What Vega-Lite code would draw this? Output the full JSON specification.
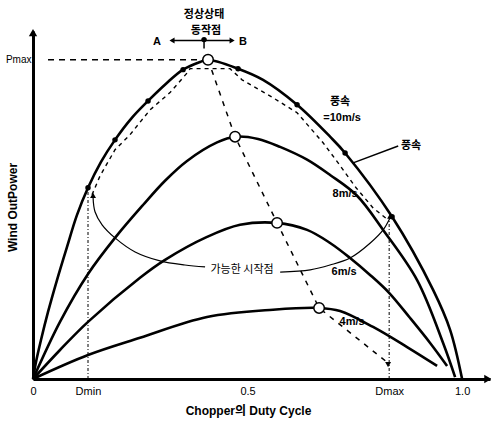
{
  "$schema": "https://vega.github.io/schema/vega-lite/v6.json",
  "width": 457,
  "height": 348,
  "autosize": "none",
  "padding": {"left": 33, "top": 31, "right": 1, "bottom": 43},
  "background": "white",
  "config": {"view": {"stroke": null}, "font": "Liberation Sans, Noto Sans CJK KR"},
  "datasets": {
    "curves": [
      {"s": "10", "d": 0, "p": 0}, {"s": "10", "d": 0.007, "p": 0.053}, {"s": "10", "d": 0.0186, "p": 0.122},
      {"s": "10", "d": 0.035, "p": 0.21}, {"s": "10", "d": 0.0559, "p": 0.31}, {"s": "10", "d": 0.0793, "p": 0.414},
      {"s": "10", "d": 0.1026, "p": 0.514}, {"s": "10", "d": 0.1282, "p": 0.599},
      {"s": "10", "d": 0.1585, "p": 0.680}, {"s": "10", "d": 0.1911, "p": 0.749}, {"s": "10", "d": 0.2284, "p": 0.815},
      {"s": "10", "d": 0.2681, "p": 0.871}, {"s": "10", "d": 0.31, "p": 0.925}, {"s": "10", "d": 0.3497, "p": 0.969},
      {"s": "10", "d": 0.3893, "p": 0.993}, {"s": "10", "d": 0.4079, "p": 1.0}, {"s": "10", "d": 0.4779, "p": 0.972},
      {"s": "10", "d": 0.5361, "p": 0.937}, {"s": "10", "d": 0.6154, "p": 0.859}, {"s": "10", "d": 0.6923, "p": 0.759},
      {"s": "10", "d": 0.7273, "p": 0.708}, {"s": "10", "d": 0.8368, "p": 0.508}, {"s": "10", "d": 0.9324, "p": 0.279},
      {"s": "10", "d": 0.972, "p": 0.154}, {"s": "10", "d": 1.0, "p": 0},
      {"s": "8", "d": 0, "p": 0}, {"s": "8", "d": 0.0629, "p": 0.179}, {"s": "8", "d": 0.1282, "p": 0.329},
      {"s": "8", "d": 0.1911, "p": 0.442}, {"s": "8", "d": 0.2564, "p": 0.545}, {"s": "8", "d": 0.3077, "p": 0.621},
      {"s": "8", "d": 0.359, "p": 0.683}, {"s": "8", "d": 0.4289, "p": 0.741}, {"s": "8", "d": 0.4709, "p": 0.759},
      {"s": "8", "d": 0.5245, "p": 0.752}, {"s": "8", "d": 0.5758, "p": 0.727}, {"s": "8", "d": 0.6387, "p": 0.687},
      {"s": "8", "d": 0.6923, "p": 0.639}, {"s": "8", "d": 0.7552, "p": 0.574}, {"s": "8", "d": 0.8159, "p": 0.467},
      {"s": "8", "d": 0.8951, "p": 0.31}, {"s": "8", "d": 0.9557, "p": 0.113}, {"s": "8", "d": 0.9837, "p": 0.006},
      {"s": "6", "d": 0, "p": 0}, {"s": "6", "d": 0.0629, "p": 0.0909}, {"s": "6", "d": 0.1282, "p": 0.179},
      {"s": "6", "d": 0.2494, "p": 0.317}, {"s": "6", "d": 0.3077, "p": 0.373}, {"s": "6", "d": 0.4056, "p": 0.445},
      {"s": "6", "d": 0.4825, "p": 0.483}, {"s": "6", "d": 0.5688, "p": 0.489}, {"s": "6", "d": 0.6387, "p": 0.467},
      {"s": "6", "d": 0.6923, "p": 0.426}, {"s": "6", "d": 0.7389, "p": 0.379}, {"s": "6", "d": 0.7855, "p": 0.326},
      {"s": "6", "d": 0.8298, "p": 0.27}, {"s": "6", "d": 0.8788, "p": 0.191}, {"s": "6", "d": 0.9254, "p": 0.113},
      {"s": "6", "d": 0.965, "p": 0.041},
      {"s": "4", "d": 0, "p": 0}, {"s": "4", "d": 0.1282, "p": 0.075}, {"s": "4", "d": 0.2494, "p": 0.129},
      {"s": "4", "d": 0.4056, "p": 0.194}, {"s": "4", "d": 0.5594, "p": 0.217}, {"s": "4", "d": 0.6667, "p": 0.2226},
      {"s": "4", "d": 0.7156, "p": 0.213}, {"s": "4", "d": 0.7925, "p": 0.163}, {"s": "4", "d": 0.8718, "p": 0.1},
      {"s": "4", "d": 0.9417, "p": 0.041}
    ],
    "track": [
      {"d": 0.1375, "p": 0.577}, {"d": 0.1562, "p": 0.636}, {"d": 0.1911, "p": 0.718}, {"d": 0.2261, "p": 0.765},
      {"d": 0.2727, "p": 0.843}, {"d": 0.3193, "p": 0.897}, {"d": 0.3613, "p": 0.962}, {"d": 0.366, "p": 0.972},
      {"d": 0.4592, "p": 0.972}, {"d": 0.4872, "p": 0.937}, {"d": 0.5594, "p": 0.881}, {"d": 0.6154, "p": 0.834},
      {"d": 0.676, "p": 0.74}, {"d": 0.711, "p": 0.677}, {"d": 0.7529, "p": 0.599}, {"d": 0.7925, "p": 0.536},
      {"d": 0.8275, "p": 0.498}
    ],
    "mpp": [
      {"d": 0.4079, "p": 1.0}, {"d": 0.4709, "p": 0.759}, {"d": 0.5688, "p": 0.489}, {"d": 0.6667, "p": 0.2226},
      {"d": 0.8275, "p": 0.05}
    ],
    "start": [
      {"seg": "L", "d": 0.1399, "p": 0.571}, {"seg": "L", "d": 0.1445, "p": 0.524}, {"seg": "L", "d": 0.161, "p": 0.483},
      {"seg": "L", "d": 0.1911, "p": 0.442}, {"seg": "L", "d": 0.238, "p": 0.398}, {"seg": "L", "d": 0.296, "p": 0.37},
      {"seg": "L", "d": 0.354, "p": 0.357}, {"seg": "L", "d": 0.401, "p": 0.351},
      {"seg": "R", "d": 0.576, "p": 0.335}, {"seg": "R", "d": 0.646, "p": 0.342}, {"seg": "R", "d": 0.692, "p": 0.357},
      {"seg": "R", "d": 0.739, "p": 0.379}, {"seg": "R", "d": 0.786, "p": 0.426}, {"seg": "R", "d": 0.816, "p": 0.467},
      {"seg": "R", "d": 0.8322, "p": 0.505}
    ],
    "vlines": [
      {"d": 0.1282, "p": 0, "p2": 0.599},
      {"d": 0.83, "p": 0, "p2": 0.508}
    ],
    "hlines": [
      {"d": 0.035, "d2": 0.4, "p": 1.0}
    ],
    "solidRules": [
      {"d": 0.746, "d2": 0.851, "p": 0.677, "p2": 0.73},
      {"d": 0.324, "d2": 0.464, "p": 1.06, "p2": 1.06},
      {"d": 0.3986, "d2": 0.3986, "p": 1.06, "p2": 1.035}
    ],
    "dots": [
      {"d": 0.1282, "p": 0.599}, {"d": 0.1911, "p": 0.749}, {"d": 0.2681, "p": 0.871}, {"d": 0.3497, "p": 0.969},
      {"d": 0.4779, "p": 0.972}, {"d": 0.6154, "p": 0.859}, {"d": 0.7273, "p": 0.708}, {"d": 0.8368, "p": 0.508},
      {"d": 0.3986, "p": 1.063}
    ],
    "circles": [
      {"d": 0.4079, "p": 1.0}, {"d": 0.4709, "p": 0.759}, {"d": 0.5688, "p": 0.489}, {"d": 0.6667, "p": 0.2226}
    ],
    "arrows": [
      {"d": 0.324, "p": 1.06, "dir": "left"}, {"d": 0.464, "p": 1.06, "dir": "right"},
      {"d": 0.8275, "p": 0.045, "dir": "down"}, {"d": 0.1399, "p": 0.575, "dir": "up"},
      {"d": 0.8322, "p": 0.51, "dir": "up"}
    ],
    "axisArrows": [
      {"d": 0, "p": 1.085, "dir": "up"}, {"d": 1.06, "p": 0, "dir": "right"}
    ],
    "labels": [
      {"d": 0.3986, "p": 1.141, "t": "정상상태"}, {"d": 0.4033, "p": 1.091, "t": "동작점"},
      {"d": 0.289, "p": 1.056, "t": "A"}, {"d": 0.4895, "p": 1.056, "t": "B"},
      {"d": 0.7156, "p": 0.868, "t": "풍속"}, {"d": 0.7203, "p": 0.818, "t": "=10m/s"},
      {"d": 0.881, "p": 0.73, "t": "풍속"}, {"d": 0.7273, "p": 0.58, "t": "8m/s"},
      {"d": 0.725, "p": 0.335, "t": "6m/s"}, {"d": 0.7436, "p": 0.179, "t": "4m/s"}
    ],
    "thinLabels": [
      {"d": 0.4872, "p": 0.342, "t": "가능한 시작점"}
    ]
  },
  "encoding": {
    "x": {
      "field": "d", "type": "quantitative",
      "scale": {"domain": [0, 1.065], "nice": false, "zero": false},
      "axis": {
        "values": [0, 0.128, 0.5, 0.83, 1],
        "labelExpr": "datum.value == 0 ? '0' : datum.value == 0.5 ? '0.5' : datum.value == 1 ? '1.0' : datum.value < 0.3 ? 'Dmin' : 'Dmax'",
        "ticks": false, "grid": false, "domainColor": "#000", "domainWidth": 3,
        "labelFont": "Liberation Sans", "labelFontSize": 11, "labelColor": "#000", "labelPadding": 6,
        "labelFlush": false, "labelOverlap": false,
        "title": "Chopper의 Duty Cycle", "titleFont": "Liberation Sans, Noto Sans CJK KR", "titleFontSize": 12,
        "titleFontWeight": "bold", "titleColor": "#000", "titleX": 215, "titleY": 31, "titleBaseline": "middle", "titleAlign": "center"
      }
    },
    "y": {
      "field": "p", "type": "quantitative",
      "scale": {"domain": [0, 1.09], "nice": false, "zero": false},
      "axis": {
        "values": [1], "labelExpr": "'Pmax'",
        "ticks": false, "grid": false, "domainColor": "#000", "domainWidth": 3,
        "labelFont": "Liberation Sans", "labelFontSize": 10, "labelColor": "#000", "labelPadding": 2,
        "title": "Wind OutPower", "titleFont": "Liberation Sans", "titleFontSize": 12, "titleFontWeight": "bold",
        "titleColor": "#000", "titleX": -21, "titleY": 176, "titleAngle": 270, "titleAlign": "center", "titleBaseline": "middle"
      }
    }
  },
  "layer": [
    {
      "data": {"name": "vlines"},
      "mark": {"type": "rule", "color": "#000", "strokeWidth": 1, "strokeDash": [3, 2, 1, 2]},
      "encoding": {"y2": {"field": "p2"}}
    },
    {
      "data": {"name": "hlines"},
      "mark": {"type": "rule", "color": "#000", "strokeWidth": 1.5, "strokeDash": [6, 5]},
      "encoding": {"x2": {"field": "d2"}}
    },
    {
      "data": {"name": "mpp"},
      "mark": {"type": "line", "color": "#000", "strokeWidth": 1.5, "strokeDash": [5, 6]},
      "encoding": {}
    },
    {
      "data": {"name": "track"},
      "mark": {"type": "line", "color": "#000", "strokeWidth": 1.4, "strokeDash": [4, 4]},
      "encoding": {}
    },
    {
      "data": {"name": "start"},
      "mark": {"type": "line", "color": "#000", "strokeWidth": 1.2, "interpolate": "catmull-rom"},
      "encoding": {"detail": {"field": "seg"}}
    },
    {
      "data": {"name": "curves"},
      "mark": {"type": "line", "color": "#000", "strokeWidth": 2.6, "interpolate": "catmull-rom"},
      "encoding": {"detail": {"field": "s"}}
    },
    {
      "data": {"name": "solidRules"},
      "mark": {"type": "rule", "color": "#000", "strokeWidth": 1.5},
      "encoding": {"x2": {"field": "d2"}, "y2": {"field": "p2"}}
    },
    {
      "data": {"name": "dots"},
      "mark": {"type": "point", "shape": "circle", "filled": true, "color": "#000", "size": 30, "opacity": 1},
      "encoding": {}
    },
    {
      "data": {"name": "circles"},
      "mark": {"type": "point", "shape": "circle", "filled": true, "fill": "#fff", "stroke": "#000", "strokeWidth": 1.5, "size": 110, "opacity": 1},
      "encoding": {}
    },
    {
      "data": {"name": "arrows"},
      "mark": {"type": "point", "filled": true, "color": "#000", "size": 35, "opacity": 1},
      "encoding": {"shape": {"field": "dir", "type": "nominal", "scale": {"domain": ["up", "down", "left", "right"], "range": ["triangle-up", "triangle-down", "triangle-left", "triangle-right"]}, "legend": null}}
    },
    {
      "data": {"name": "axisArrows"},
      "mark": {"type": "point", "filled": true, "color": "#000", "size": 70, "opacity": 1},
      "encoding": {"shape": {"field": "dir", "type": "nominal", "scale": {"domain": ["up", "down", "left", "right"], "range": ["triangle-up", "triangle-down", "triangle-left", "triangle-right"]}, "legend": null}}
    },
    {
      "data": {"name": "labels"},
      "mark": {"type": "text", "font": "Liberation Sans, Noto Sans CJK KR", "fontSize": 11, "fontWeight": "bold", "color": "#000", "align": "center", "baseline": "middle"},
      "encoding": {"text": {"field": "t"}}
    },
    {
      "data": {"name": "thinLabels"},
      "mark": {"type": "text", "font": "Noto Sans CJK KR", "fontSize": 11, "color": "#000", "align": "center", "baseline": "middle", "fill": "#000"},
      "encoding": {"text": {"field": "t"}}
    }
  ]
}
